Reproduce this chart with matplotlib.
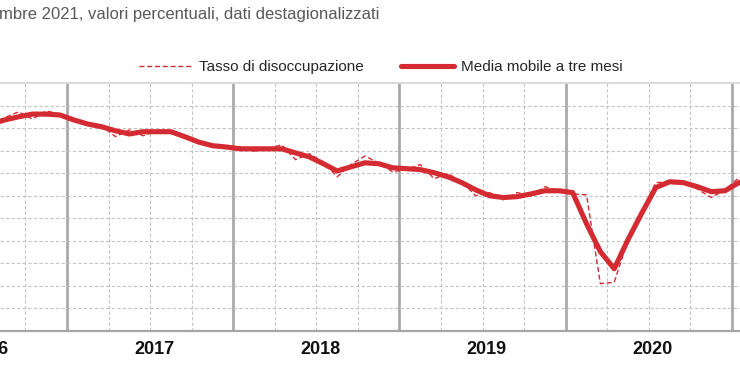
import numpy as np
import matplotlib
matplotlib.use("Agg")
import matplotlib.pyplot as plt
from matplotlib.transforms import blended_transform_factory

# monthly data, Jul 2016 .. Feb 2021 (seasonally adjusted, %)
start_month = 6   # months counted from Jan 2016
tasso = [11.59, 11.73, 11.86, 11.70, 11.88, 11.81,
         11.66, 11.59, 11.55, 11.31, 11.46, 11.33, 11.44, 11.42, 11.31, 11.17, 11.11, 11.08,
         11.08, 10.99, 11.04, 11.13, 10.80, 10.93, 10.75, 10.42, 10.69, 10.88, 10.73, 10.53,
         10.58, 10.69, 10.38, 10.49, 10.31, 10.00, 10.07, 9.91, 10.07, 10.00, 10.20, 10.11,
         10.04, 10.02, 8.05, 8.08, 9.03, 9.65, 10.29, 10.31, 10.27, 10.15, 9.96, 10.13,
         10.40, 10.44]
media_mobile = [11.59, 11.68, 11.75, 11.81, 11.81, 11.79,
                11.68, 11.59, 11.53, 11.44, 11.37, 11.42, 11.42, 11.42, 11.31, 11.19, 11.11, 11.08,
                11.04, 11.04, 11.04, 11.04, 10.95, 10.86, 10.71, 10.55, 10.64, 10.73, 10.71, 10.62,
                10.60, 10.58, 10.51, 10.42, 10.29, 10.13, 10.00, 9.96, 9.98, 10.04, 10.11, 10.11,
                10.07, 9.38, 8.76, 8.38, 9.03, 9.62, 10.18, 10.31, 10.29, 10.20, 10.09, 10.11,
                10.29, 10.38]
years = ["2016", "2017", "2018", "2019", "2020"]
title = "mbre 2021, valori percentuali, dati destagionalizzati"
labels = ["Tasso di disoccupazione", "Media mobile a tre mesi"]

red = "#d42a32"
x = start_month + np.arange(len(tasso))

fig = plt.figure(figsize=(7.4, 3.89), dpi=100)
ax = fig.add_axes([0, 1 - 331 / 389, 1, 248 / 389])

l2, = ax.plot(x, media_mobile, color=red, lw=3.7, solid_joinstyle="round",
              solid_capstyle="round", zorder=3)
l1, = ax.plot(x, tasso, color=red, lw=1.0, ls=(0, (3.6, 2)), zorder=4)

ax.set_yticks(np.arange(7.5, 12.5, 0.5))
ax.set_yticklabels([])
ax.set_xticks(np.arange(11.5, 61, 12))
ax.set_xticklabels([])
ax.set_xticks([q for q in np.arange(-0.5, 61, 3) if (q - 11.5) % 12 != 0], minor=True)
# limits after the ticks, so the ticks do not widen the view
ax.set_ylim(7.0, 12.5)
ax.set_xlim(6.664, 60.08)
ax.tick_params(which="both", length=0)
ax.grid(axis="y", color="#c4c4c4", lw=0.8, ls=(0, (3, 2)))
ax.grid(axis="x", which="minor", color="#c4c4c4", lw=0.8, ls=(0, (3, 2)))
ax.grid(axis="x", which="major", color="#a6a6a6", lw=1.9, ls="-")

for s in ["left", "right"]:
    ax.spines[s].set_visible(False)
ax.spines["top"].set_color("#d9d9d9")
ax.spines["top"].set_linewidth(1.4)
ax.spines["bottom"].set_color("#a6a6a6")
ax.spines["bottom"].set_linewidth(1.6)

trans = blended_transform_factory(ax.transData, fig.transFigure)
for i, yr in enumerate(years):
    ax.text(5.5 + 12 * i + 0.3, 1 - 349 / 389, yr, transform=trans,
            ha="center", va="center", fontsize=13, fontweight="bold",
            family="Liberation Sans", color="#111111", clip_on=False)

fig.text(-0.001, 1 - 15 / 389, title, ha="left", va="center", fontsize=12,
         family="Liberation Sans", color="#595959")

leg = ax.legend([l1, l2], labels, ncol=2, loc="center left",
                bbox_to_anchor=(139 / 740, 1 - 67 / 389), bbox_transform=fig.transFigure,
                frameon=False, handlelength=3.5, handletextpad=0.45,
                columnspacing=2.4, borderpad=0, borderaxespad=0,
                prop={"family": "Liberation Sans", "size": 11})
for t in leg.get_texts():
    t.set_color("#262626")

fig.savefig("out.png", dpi=100)
